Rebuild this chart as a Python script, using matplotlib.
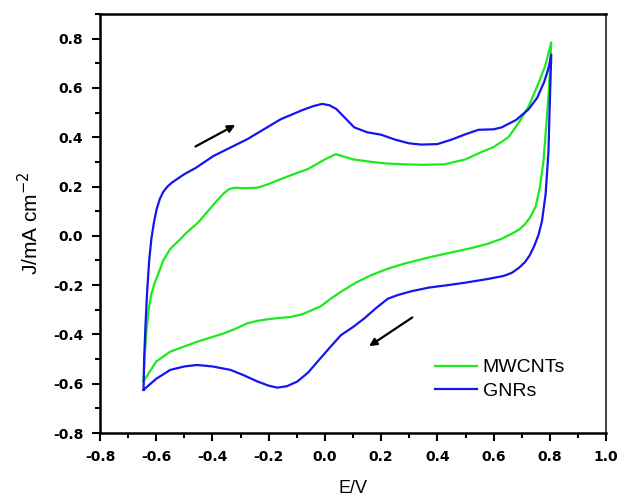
"""Cyclic voltammograms of MWCNTs and GNRs electrodes."""

import matplotlib
matplotlib.use("Agg")
import matplotlib.pyplot as plt
from matplotlib.ticker import MultipleLocator


# MWCNTs loop: anodic sweep (left -> right) then cathodic sweep (right -> left)
mw_x = [-0.645, -0.641, -0.635, -0.627, -0.617, -0.605, -0.593, -0.575, -0.55, -0.52,
        -0.49, -0.45, -0.419, -0.39, -0.36, -0.34, -0.32, -0.29, -0.24, -0.2,
        -0.157, -0.1, -0.062, 0.0, 0.039, 0.1, 0.164, 0.22, 0.282, 0.35,
        0.425, 0.5, 0.557, 0.6, 0.653, 0.69, 0.725, 0.76, 0.783, 0.805,
        0.798, 0.789, 0.777, 0.765, 0.75, 0.73, 0.71, 0.69, 0.664, 0.629,
        0.58, 0.52, 0.46, 0.38, 0.282, 0.22, 0.164, 0.11, 0.057, 0.021,
        -0.014, -0.039, -0.08, -0.121, -0.193, -0.24, -0.276, -0.32, -0.36, -0.455,
        -0.55, -0.6, -0.645]
mw_y = [-0.59, -0.49, -0.39, -0.3, -0.235, -0.19, -0.155, -0.1, -0.053, -0.02,
        0.015, 0.055, 0.096, 0.135, 0.172, 0.19, 0.195, 0.193, 0.195, 0.21,
        0.23, 0.255, 0.27, 0.31, 0.331, 0.31, 0.3, 0.293, 0.29, 0.288,
        0.29, 0.31, 0.34, 0.36, 0.4, 0.46, 0.526, 0.62, 0.688, 0.785,
        0.62, 0.473, 0.3, 0.2, 0.12, 0.075, 0.045, 0.025, 0.008, -0.012,
        -0.032, -0.05, -0.065, -0.085, -0.113, -0.135, -0.16, -0.19, -0.227, -0.255,
        -0.285, -0.298, -0.318, -0.329, -0.337, -0.345, -0.355, -0.378, -0.396, -0.43,
        -0.47, -0.51, -0.59]

# GNRs loop
gnr_x = [-0.645, -0.643, -0.638, -0.632, -0.625, -0.617, -0.608, -0.598, -0.587, -0.575,
         -0.56, -0.545, -0.526, -0.5, -0.46, -0.396, -0.276, -0.157, -0.08, -0.039,
         -0.01, 0.015, 0.04, 0.07, 0.104, 0.15, 0.2, 0.25, 0.3, 0.343,
         0.4, 0.45, 0.5, 0.546, 0.6, 0.629, 0.68, 0.724, 0.755, 0.78,
         0.795, 0.805,
         0.8, 0.795, 0.785, 0.772, 0.76, 0.745, 0.728, 0.712, 0.69, 0.665,
         0.635, 0.58, 0.5, 0.438, 0.37, 0.307, 0.26, 0.224, 0.18, 0.14,
         0.1, 0.057, 0.02, -0.026, -0.06, -0.098, -0.135, -0.169, -0.2, -0.24,
         -0.29, -0.336, -0.4, -0.455, -0.5, -0.55, -0.6, -0.645]
gnr_y = [-0.625, -0.5, -0.36, -0.22, -0.1, -0.01, 0.055, 0.11, 0.15, 0.178,
         0.2, 0.215, 0.23, 0.25, 0.275, 0.324, 0.392, 0.473, 0.51, 0.527,
         0.535, 0.53, 0.515, 0.48, 0.44, 0.42, 0.41, 0.39, 0.375, 0.37,
         0.372, 0.39, 0.412, 0.43, 0.432, 0.44, 0.47, 0.513, 0.56, 0.625,
         0.68, 0.735,
         0.55, 0.34, 0.17, 0.06, 0.005, -0.04, -0.08, -0.106, -0.13, -0.15,
         -0.163, -0.175, -0.19, -0.2, -0.21, -0.225, -0.24, -0.255, -0.295, -0.335,
         -0.37, -0.403, -0.45, -0.51, -0.555, -0.591, -0.61, -0.616, -0.608, -0.591,
         -0.565, -0.544, -0.53, -0.524, -0.53, -0.544, -0.58, -0.625]

fig = plt.figure(figsize=(6.21, 4.98), dpi=100)
ax = fig.add_axes([0.161, 0.1305, 0.815, 0.8415])

ax.plot(mw_x, mw_y, color="#1ee81e", lw=1.6, label="MWCNTs")
ax.plot(gnr_x, gnr_y, color="#1515f0", lw=1.6, label="GNRs")

# sweep direction arrows
ax.annotate("", xy=(-0.31, 0.455), xytext=(-0.469, 0.357),
            arrowprops=dict(arrowstyle="-|>", color="black", lw=1.6, mutation_scale=11))
ax.annotate("", xy=(0.149, -0.454), xytext=(0.319, -0.325),
            arrowprops=dict(arrowstyle="-|>", color="black", lw=1.6, mutation_scale=11))

ax.set_xlim(-0.8, 1.0)
ax.set_ylim(-0.8, 0.9)
ax.xaxis.set_major_locator(MultipleLocator(0.2))
ax.xaxis.set_minor_locator(MultipleLocator(0.1))
ax.set_yticks([-0.8, -0.6, -0.4, -0.2, 0.0, 0.2, 0.4, 0.6, 0.8])
ax.yaxis.set_minor_locator(MultipleLocator(0.1))
ax.set_xticklabels([f"{v:.1f}" for v in ax.get_xticks()])
ax.set_yticklabels([f"{v:.1f}" for v in ax.get_yticks()])

ax.tick_params(which="both", direction="out", width=1.5, top=False, right=False)
ax.tick_params(which="major", length=6, pad=6)
ax.tick_params(which="minor", length=3.5)
for lab in ax.get_xticklabels() + ax.get_yticklabels():
    lab.set_fontweight("bold")
    lab.set_fontsize(10)
for side in ["left", "bottom", "top"]:
    ax.spines[side].set_linewidth(1.8)
ax.spines["right"].set_linewidth(1.3)
ax.spines["right"].set_color("#333333")

ax.set_xlabel("E/V", family="Liberation Sans", fontsize=13, labelpad=12)
ax.set_ylabel("J/mA cm$^{-2}$", family="Liberation Sans", fontsize=15, labelpad=8)

ax.legend(loc="upper left", bbox_to_anchor=(0.662, 0.177), frameon=False,
          borderpad=0, borderaxespad=0, handlelength=2.15, handletextpad=0.3,
          labelspacing=0.3, prop={"family": "Liberation Sans", "size": 14})

fig.savefig("out.png", dpi=100)
